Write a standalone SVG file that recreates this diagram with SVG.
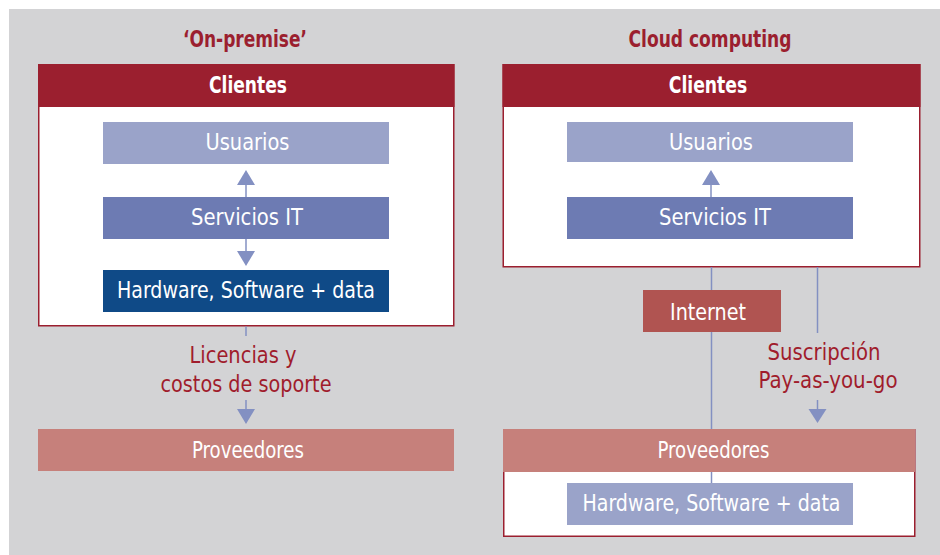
<svg xmlns="http://www.w3.org/2000/svg" width="940" height="555" viewBox="0 0 940 555">
<defs>
<style>
text{font-family:'DejaVu Sans Condensed','DejaVu Sans','Liberation Sans',sans-serif;font-stretch:condensed;text-anchor:middle}
.title{font-size:23px;font-weight:bold;fill:#9b1f2f}
.hdr{font-size:23px;font-weight:bold;fill:#ffffff}
.w{font-size:22.5px;fill:#ffffff}
.lbl{font-size:22.5px;fill:#a01c2c}
.frame{fill:#ffffff;stroke:#9b1f2f;stroke-width:1.5}
.hbar{fill:#9b1f2f}
.u{fill:#9aa3c9}
.s{fill:#6d7bb3}
.hw{fill:#0f4a87}
.prov{fill:#c6807b}
.inet{fill:#b05451}
.ln{stroke:#8390c2;stroke-width:1.5;fill:none}
.ah{fill:#8390c2}
</style>
</defs>
<rect x="9" y="9" width="931" height="546" fill="#d3d3d5"/>

<text class="title" x="245" y="47" textLength="124" lengthAdjust="spacingAndGlyphs">‘On-premise’</text>
<text class="title" x="710" y="47" textLength="163" lengthAdjust="spacingAndGlyphs">Cloud computing</text>

<g id="clientes-onpremise">
<rect class="frame" x="38.75" y="64.75" width="415" height="261"/>
<rect class="hbar" x="38" y="64" width="416.5" height="43"/>
<text class="hdr" x="248" y="93" textLength="78" lengthAdjust="spacingAndGlyphs">Clientes</text>
</g>
<g id="usuarios-1"><rect class="u" x="103" y="122" width="286" height="42"/><text class="w" x="247.5" y="150" textLength="84" lengthAdjust="spacingAndGlyphs">Usuarios</text></g>
<g id="servicios-1"><rect class="s" x="103" y="197" width="286" height="42"/><text class="w" x="247" y="225" textLength="112" lengthAdjust="spacingAndGlyphs">Servicios IT</text></g>
<g id="hardware-1"><rect class="hw" x="103" y="270" width="286" height="42"/><text class="w" x="246" y="298" textLength="258" lengthAdjust="spacingAndGlyphs">Hardware, Software + data</text></g>
<g id="label-licencias">
<text class="lbl" x="243" y="363" textLength="107" lengthAdjust="spacingAndGlyphs">Licencias y</text>
<text class="lbl" x="246" y="392" textLength="171" lengthAdjust="spacingAndGlyphs">costos de soporte</text>
</g>
<g id="proveedores-1"><rect class="prov" x="38" y="429" width="416" height="42"/><text class="w" x="248" y="458" textLength="112" lengthAdjust="spacingAndGlyphs">Proveedores</text></g>

<g id="clientes-cloud">
<rect class="frame" x="503.25" y="64.75" width="416.5" height="202"/>
<rect class="hbar" x="502.5" y="64" width="418" height="43"/>
<text class="hdr" x="708" y="93" textLength="78.5" lengthAdjust="spacingAndGlyphs">Clientes</text>
</g>
<g id="usuarios-2"><rect class="u" x="567" y="122" width="286" height="40"/><text class="w" x="711" y="150" textLength="84" lengthAdjust="spacingAndGlyphs">Usuarios</text></g>
<g id="servicios-2"><rect class="s" x="567" y="197" width="286" height="42"/><text class="w" x="715" y="225" textLength="112" lengthAdjust="spacingAndGlyphs">Servicios IT</text></g>
<g id="internet"><rect class="inet" x="643" y="290" width="138" height="42"/><text class="w" x="708" y="320" textLength="76" lengthAdjust="spacingAndGlyphs">Internet</text></g>
<g id="label-suscripcion">
<text class="lbl" x="824" y="360" textLength="113" lengthAdjust="spacingAndGlyphs">Suscripción</text>
<text class="lbl" x="828" y="388" textLength="139" lengthAdjust="spacingAndGlyphs">Pay-as-you-go</text>
</g>
<g id="proveedores-2">
<rect class="frame" x="503.75" y="429.75" width="411" height="106.5"/>
<rect class="prov" x="503" y="429" width="412" height="43"/>
<text class="w" x="713.5" y="458" textLength="112" lengthAdjust="spacingAndGlyphs">Proveedores</text>
</g>
<g id="hardware-2"><rect class="u" x="567" y="483" width="286" height="42"/><text class="w" x="711.5" y="511" textLength="258" lengthAdjust="spacingAndGlyphs">Hardware, Software + data</text></g>

<g id="connectors">
<line class="ln" x1="246" y1="184" x2="246" y2="197"/>
<polygon class="ah" points="246,170 237,185 255,185"/>
<line class="ln" x1="246" y1="239" x2="246" y2="252"/>
<polygon class="ah" points="246,266 237,251 255,251"/>
<line class="ln" x1="246" y1="326.5" x2="246" y2="336"/>
<line class="ln" x1="246" y1="400" x2="246" y2="410"/>
<polygon class="ah" points="246,424 237,409 255,409"/>
<line class="ln" x1="711" y1="184" x2="711" y2="197"/>
<polygon class="ah" points="711,170 702,185 720,185"/>
<line class="ln" x1="711.5" y1="267" x2="711.5" y2="290"/>
<line class="ln" x1="711.5" y1="332" x2="711.5" y2="429"/>
<line class="ln" x1="711.5" y1="472" x2="711.5" y2="483"/>
<line class="ln" x1="817.5" y1="267" x2="817.5" y2="333"/>
<line class="ln" x1="817.5" y1="400" x2="817.5" y2="410"/>
<polygon class="ah" points="817.5,423 808.5,409 826.5,409"/>
</g>
</svg>
